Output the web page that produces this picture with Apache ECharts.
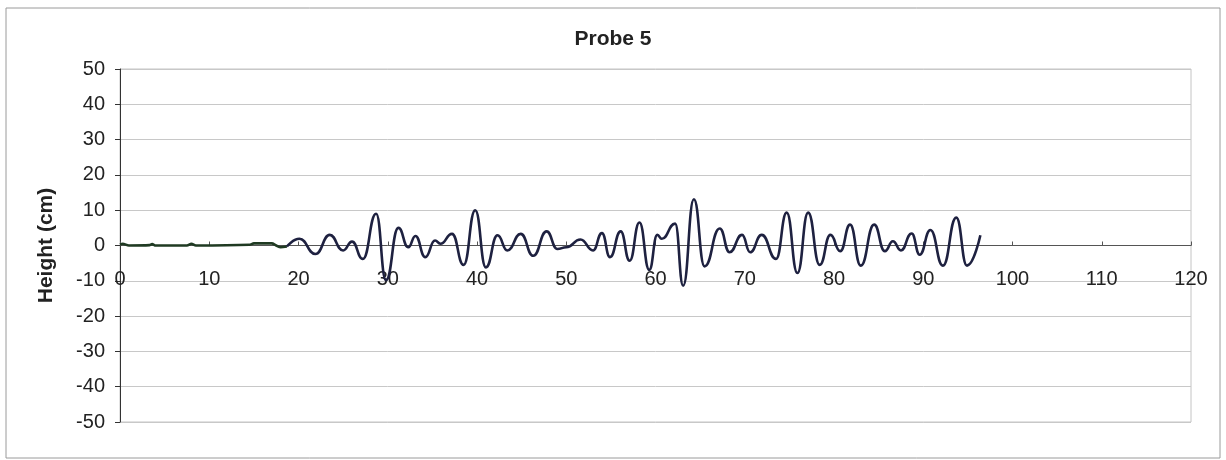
<!DOCTYPE html>
<html>
<head>
<meta charset="utf-8">
<script src="https://cdn.jsdelivr.net/npm/echarts@6/dist/echarts.min.js"></script>
<style>
html,body{margin:0;padding:0;background:#fff;}
#chart{width:1226px;height:460px;}
</style>
</head>
<body>
<div id="chart"></div>
<script>
const titleText = 'Probe 5';
const yAxisName = 'Height (cm)';
const xTicks = [0, 10, 20, 30, 40, 50, 60, 70, 80, 90, 100, 110, 120];
const yTicks = [-50, -40, -30, -20, -10, 0, 10, 20, 30, 40, 50];

// Quiet section before the wave arrives (time, height)
const quietTime   = [0, 0.3, 1, 3.3, 3.6, 4, 7.5, 8, 8.5, 14.5, 15, 17, 17.5, 18, 18.7];
const quietHeight = [0.3, 0.5, 0, 0.1, 0.4, 0, 0, 0.5, 0, 0.2, 0.6, 0.6, 0, -0.5, -0.3];

// Wave section (time, height) read at peaks and troughs
const waveTime = [18.7, 20.1, 21.9, 23.5, 25.0, 26.0, 27.2, 28.7, 29.8, 31.2, 32.3, 33.1, 34.2, 35.3, 35.9, 37.2, 38.5, 39.8, 41.0, 42.3, 43.4, 44.9, 46.3, 47.8, 49.0, 50.0, 51.6, 53.0, 54.0, 54.9, 56.1, 57.1, 58.2, 59.3, 60.2, 60.7, 62.2, 63.1, 64.3, 65.5, 67.2, 68.3, 69.7, 70.6, 71.9, 73.5, 74.7, 75.9, 77.1, 78.4, 79.6, 80.7, 81.8, 83.0, 84.5, 85.7, 86.6, 87.5, 88.7, 89.6, 90.8, 92.2, 93.7, 94.9, 96.4];
const waveHeight = [-0.3, 1.9, -2.4, 3.0, -1.4, 1.1, -3.8, 9.0, -9.8, 5.0, -0.5, 2.7, -3.3, 1.4, 0.5, 3.3, -5.5, 10.0, -6.2, 2.9, -1.4, 3.3, -2.9, 4.0, -1.0, -0.5, 1.7, -1.4, 3.5, -3.3, 4.0, -4.3, 6.5, -6.9, 3.0, 1.9, 6.2, -11.4, 13.1, -5.9, 4.8, -1.9, 3.0, -1.9, 3.0, -3.8, 9.3, -7.8, 9.3, -5.5, 3.0, -1.6, 5.9, -5.7, 5.9, -1.6, 1.2, -1.4, 3.4, -2.6, 4.4, -5.7, 7.9, -5.7, 2.9];

const quietData = quietTime.map((t, i) => [t, quietHeight[i]]);
const waveData = waveTime.map((t, i) => [t, waveHeight[i]]);

const chart = echarts.init(document.getElementById('chart'), null, {renderer: 'canvas'});
const font = '"Liberation Sans", Arial, sans-serif';
chart.setOption({
  animation: false,
  backgroundColor: '#ffffff',
  title: {
    text: titleText,
    left: 'center',
    top: 24,
    textStyle: {fontFamily: font, fontSize: 21, fontWeight: 'bold', color: '#222'}
  },
  graphic: [{
    type: 'rect',
    shape: {x: 6, y: 8, width: 1214, height: 450},
    style: {fill: null, stroke: '#9a9a9a', lineWidth: 1},
    silent: true
  }],
  grid: {
    left: 120, right: 35, top: 69, bottom: 38,
    show: true, borderColor: '#c4c4c4', borderWidth: 1
  },
  xAxis: {
    type: 'value',
    min: xTicks[0], max: xTicks[xTicks.length - 1], interval: 10,
    axisLine: {onZero: true, lineStyle: {color: '#555', width: 1}},
    axisTick: {show: true, inside: true, length: 4, lineStyle: {color: '#555'}},
    axisLabel: {fontFamily: font, fontSize: 20, color: '#222', margin: -153},
    splitLine: {show: false}
  },
  yAxis: {
    type: 'value',
    min: yTicks[0], max: yTicks[yTicks.length - 1], interval: 10,
    name: yAxisName,
    nameLocation: 'middle',
    nameGap: 63,
    nameTextStyle: {fontFamily: font, fontSize: 21, fontWeight: 'bold', color: '#222'},
    axisLine: {show: true, lineStyle: {color: '#333', width: 1}},
    axisTick: {show: true, inside: false, length: 5, lineStyle: {color: '#333'}},
    axisLabel: {fontFamily: font, fontSize: 20, color: '#222', margin: 15},
    splitLine: {show: true, lineStyle: {color: '#c8c8c8', width: 1}}
  },
  series: [{
    type: 'line',
    data: quietData,
    showSymbol: false,
    smooth: 0.3,
    lineStyle: {color: '#1f3a22', width: 2.6},
    z: 3
  }, {
    type: 'line',
    data: waveData,
    showSymbol: false,
    smooth: 0.5,
    smoothMonotone: 'x',
    lineStyle: {color: '#1e2140', width: 2.6},
    z: 3
  }]
});
</script>
</body>
</html>
